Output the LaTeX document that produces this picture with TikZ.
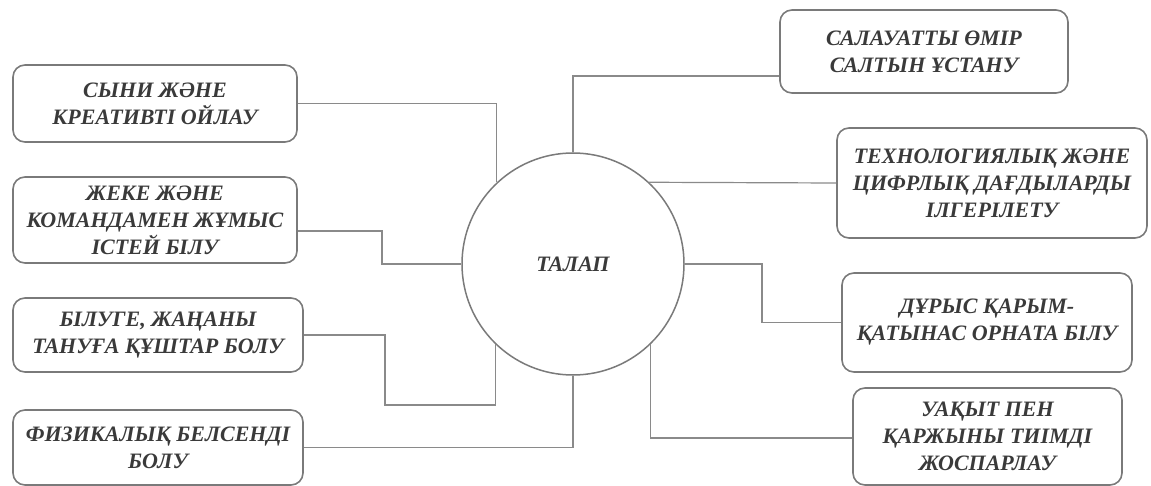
\documentclass[tikz,border=0pt]{standalone}
\usepackage{fontspec}
\setmainfont{Liberation Serif}
\definecolor{boxline}{HTML}{7A7A7A}
\definecolor{conline}{HTML}{8A8A8A}
\definecolor{txt}{HTML}{3A3A3A}
\begin{document}
\begin{tikzpicture}[x=1pt,y=-1pt,
  lbl/.style={font=\fontsize{22}{27}\selectfont\bfseries\itshape, text=txt, align=center},
  goalbox/.style={lbl, draw=boxline, line width=1.6pt, rounded corners=12pt, inner sep=0pt},
  hub/.style={lbl, circle, draw=boxline, line width=1.5pt, minimum size=222pt, inner sep=0pt},
  link/.style={draw=conline, line width=1.2pt}]
\useasboundingbox (0,0) rectangle (1151,486);
% center
\node[hub] (c) at (573,264) {ТАЛАП};
% left boxes
\node[goalbox, minimum width=284pt, minimum height=77pt] (b1) at (155,103.5) {СЫНИ ЖӘНЕ\\КРЕАТИВТІ ОЙЛАУ};
\node[goalbox, minimum width=284pt, minimum height=86pt] (b2) at (155,220) {ЖЕКЕ ЖӘНЕ\\КОМАНДАМЕН ЖҰМЫС\\ІСТЕЙ БІЛУ};
\node[goalbox, minimum width=290pt, minimum height=74pt] (b3) at (158,335) {БІЛУГЕ, ЖАҢАНЫ\\ТАНУҒА ҚҰШТАР БОЛУ};
\node[goalbox, minimum width=290pt, minimum height=75pt] (b4) at (158,447.5) {ФИЗИКАЛЫҚ БЕЛСЕНДІ\\БОЛУ};
% right boxes
\node[goalbox, minimum width=288pt, minimum height=83pt] (b5) at (924,51.5) {САЛАУАТТЫ ӨМІР\\САЛТЫН ҰСТАНУ};
\node[goalbox, minimum width=310pt, minimum height=110pt] (b6) at (992,183) {ТЕХНОЛОГИЯЛЫҚ ЖӘНЕ\\ЦИФРЛЫҚ ДАҒДЫЛАРДЫ\\ІЛГЕРІЛЕТУ};
\node[goalbox, minimum width=290pt, minimum height=99pt] (b7) at (987,322.5) {ДҰРЫС ҚАРЫМ-\\ҚАТЫНАС ОРНАТА БІЛУ};
\node[goalbox, minimum width=269pt, minimum height=97pt] (b8) at (987.5,436.5) {УАҚЫТ ПЕН\\ҚАРЖЫНЫ ТИІМДІ\\ЖОСПАРЛАУ};
% helper coordinates
\coordinate (k2) at (382,264);
\coordinate (k3) at (385,405);
\coordinate (k7) at (762,300);
% connectors
\draw[link] (b1.east) -| (c.133);
\draw[link] ([yshift=-11pt]b2.east) -| (k2) -- (c.west);
\draw[link] (b3.east) -| (k3) -| (c.226);
\draw[link] (b4.east) -| (c.south);
\draw[link] ([yshift=-24.5pt]b5.west) -| (c.north);
\draw[link] (b6.west) -- (c.47);
\draw[link] (c.east) -| (k7) |- (b7.west);
\draw[link] ([yshift=-1.5pt]b8.west) -| (c.314);
\end{tikzpicture}
\end{document}
